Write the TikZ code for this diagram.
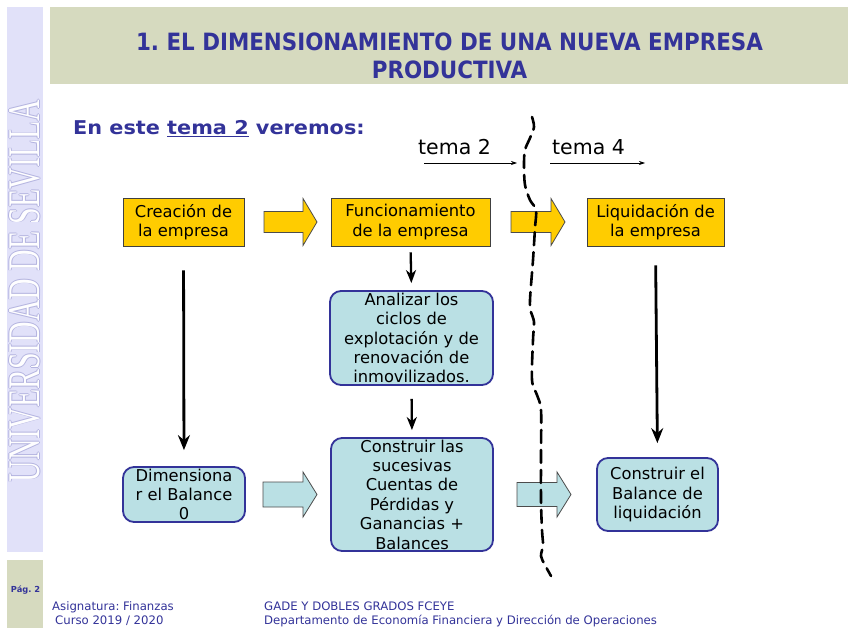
\documentclass[tikz,border=0pt]{standalone}
\usepackage{fontspec}
\setmainfont{DejaVu Sans}
\newfontfamily\serifUS{Liberation Serif}
\newfontfamily\condf{DejaVu Sans Condensed}
\usetikzlibrary{arrows.meta}
\frenchspacing
\definecolor{navy}{HTML}{333399}
\definecolor{khaki}{HTML}{D6DABF}
\definecolor{lav}{HTML}{E1E1F9}
\definecolor{lavdark}{HTML}{B4B4E0}
\definecolor{gold}{HTML}{FFCC00}
\definecolor{lblue}{HTML}{BAE0E4}
\newcommand\usvert{\resizebox{382pt}{30pt}{\serifUS UNIVERSIDAD DE SEVILLA}}
\newcommand\blockarrow[6]{%
  \draw[#1] (#2,#4-#5) -- (#3-14,#4-#5) -- (#3-14,#4-#6) -- (#3,#4) -- (#3-14,#4+#6) -- (#3-14,#4+#5) -- (#2,#4+#5) -- cycle;}
\tikzset{
  ybox/.style={draw=black!75, line width=0.8pt, fill=gold, align=center, inner sep=0pt,
    font=\fontsize{16.3}{19.5}\selectfont},
  bbox/.style={draw=navy, line width=1.8pt, fill=lblue, rounded corners=11pt, align=center, inner sep=0pt,
    font=\fontsize{16.3}{19.4}\selectfont},
  varrow/.style={line width=2.8pt, -{Stealth[length=15pt,width=12pt,inset=5pt]}},
  sarrow/.style={line width=2.3pt, -{Stealth[length=13pt,width=10pt,inset=4pt]}},
  thinarrow/.style={line width=0.7pt, -{Stealth[length=6pt,width=4pt]}},
  yarr/.style={draw=black!70, line width=0.8pt, fill=gold},
  barr/.style={draw=black!70, line width=0.8pt, fill=lblue},
  dashline/.style={line width=2.6pt, dash pattern=on 13pt off 7pt, line cap=round},
  foot/.style={text=navy, anchor=base west, inner sep=0pt, font=\fontsize{11.7}{13}\selectfont},
}
\begin{document}
\begin{tikzpicture}[x=1pt,y=-1pt]
\useasboundingbox (0,0) rectangle (848,636);
\fill[white] (0,0) rectangle (848,636);
% left stripe
\fill[lav] (7,7) rectangle (43,552);
\foreach \dx/\dy in {0.7/0,-0.7/0,0/0.7,0/-0.7}
  \node[rotate=90, text=lavdark, inner sep=0pt] at (25+\dx,291+\dy) {\usvert};
\node[rotate=90, text=white!96!lav, inner sep=0pt] (us) at (25,291) {\usvert};
% page box
\fill[khaki] (7,560) rectangle (43,628);
\node[text=navy, font=\bfseries\fontsize{8.3}{10}\selectfont] (pag) at (25.5,590) {Pág. 2};
% title band
\fill[khaki] (50,7) rectangle (848,84);
\node[text=navy, anchor=base, font=\condf\bfseries\fontsize{23.8}{28}\selectfont, inner sep=0pt] (t1) at (449.5,51) {1. EL DIMENSIONAMIENTO DE UNA NUEVA EMPRESA};
\node[text=navy, anchor=base, font=\condf\bfseries\fontsize{23.8}{28}\selectfont, inner sep=0pt] (t2) at (449.5,79) {PRODUCTIVA};
% subtitle
\node[text=navy, anchor=base west, inner sep=0pt, font=\bfseries\fontsize{19}{22}\selectfont] (sub) at (73,135) {\scalebox{1.095}[1]{En este \underline{tema 2} veremos:}};
% tema labels
\node[anchor=base west, inner sep=0pt, font=\fontsize{20.5}{24}\selectfont] (tema2) at (418,155) {tema 2};
\node[anchor=base west, inner sep=0pt, font=\fontsize{20.5}{24}\selectfont] (tema4) at (552,155) {tema 4};
\coordinate (a2s) at (424,163); \coordinate (a2e) at (517,163);
\coordinate (a4s) at (550,163); \coordinate (a4e) at (645,163);
\draw[thinarrow] (a2s) -- (a2e);
\draw[thinarrow] (a4s) -- (a4e);
% yellow boxes
\node[ybox, minimum width=121pt, minimum height=48pt] (cre) at (183.5,222) {Creación de\\la empresa};
\node[ybox, minimum width=159pt, minimum height=48pt] (fun) at (410.5,222) {Funcionamiento\\de la empresa};
\node[ybox, minimum width=137pt, minimum height=48pt] (liq) at (655.5,222) {Liquidación de\\la empresa};
% blue boxes
\node[bbox, minimum width=163pt, minimum height=94pt] (ana) at (411.5,338) {Analizar los\\ciclos de\\explotación y de\\renovación de\\inmovilizados.};
\node[bbox, minimum width=122pt, minimum height=55pt] (dim) at (184,494.5) {Dimensiona\\r el Balance\\0};
\node[bbox, minimum width=162pt, minimum height=113pt] (cons) at (412,494.5) {Construir las\\sucesivas\\Cuentas de\\Pérdidas y\\Ganancias +\\Balances};
\node[bbox, minimum width=121pt, minimum height=73pt] (bal) at (657.5,494.5) {Construir el\\Balance de\\liquidación};
% vertical arrows
\draw[varrow, shorten <=24pt, shorten >=16pt] (cre.south) -- (dim.north);
\draw[sarrow, shorten <=6pt, shorten >=7pt] (fun.south) -- (ana.north);
\draw[sarrow, shorten <=13pt, shorten >=7pt] (ana.south) -- (cons.north);
\draw[varrow, shorten <=19pt, shorten >=14pt] (liq.south) -- (bal.north);
% block arrows
\blockarrow{yarr}{264}{317}{222}{10.5}{23.5}
\blockarrow{yarr}{511}{565}{222}{10.5}{23.5}
\blockarrow{barr}{263}{317}{494.5}{12.5}{22.5}
\blockarrow{barr}{517}{571}{494.5}{12}{22.5}
% dashed boundary
\draw[dashline] plot[smooth, tension=0.55] coordinates {(532,117) (534,127) (530,138) (525,150) (524,165) (525,185) (530,200) (536,210) (535,228) (533,260) (530,300) (531,312) (534,322) (533,340) (532,380) (537,395) (541,410) (541,450) (541,500) (542,530) (543,545) (541,556) (545,565) (551,576)};
% footer
\node[foot] (f1) at (52,610) {Asignatura: Finanzas};
\node[foot] (f2) at (55,624) {Curso 2019 / 2020};
\node[foot] (f3) at (264,610) {GADE Y DOBLES GRADOS FCEYE};
\node[foot] (f4) at (264,624) {Departamento de Economía Financiera y Dirección de Operaciones};
\end{tikzpicture}
\end{document}
